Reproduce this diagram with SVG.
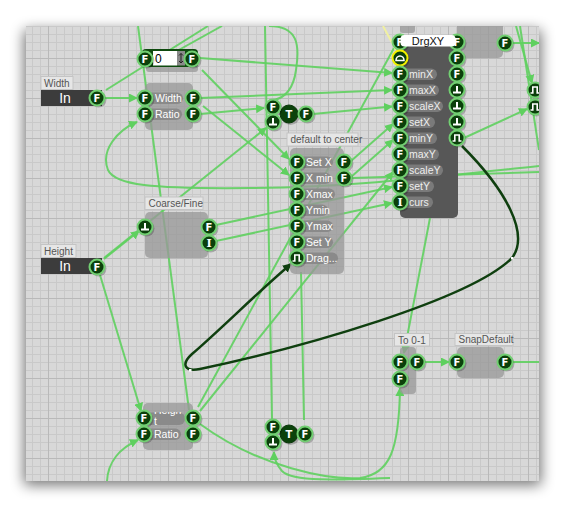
<svg xmlns="http://www.w3.org/2000/svg" xmlns:xlink="http://www.w3.org/1999/xlink" width="565" height="507" viewBox="0 0 565 507">
<style>
.tab{fill:#e6e6e6;stroke:#c4c4c4;stroke-width:1}
.tabt{font-family:"Liberation Sans",Arial,sans-serif;font-size:10px;fill:#555}
.body{fill:#999;fill-opacity:.78}
.pill{fill:#8a8a8a}
.pillt{font-family:"Liberation Sans",Arial,sans-serif;font-size:10.5px;fill:#fff}
.dpill{fill:#7a7a7a}
.dpillt{font-family:"Liberation Sans",Arial,sans-serif;font-size:10.5px;fill:#eee}
.pc{fill:#0b400b;stroke:#72cf72;stroke-width:2}
.ps{fill:#000;opacity:.22}
.pt{font-family:"DejaVu Sans",sans-serif;font-weight:bold;font-size:10px;fill:#fff;text-anchor:middle}
.ic{stroke:#fff;stroke-width:2;fill:none}
.w{fill:none;stroke:#5fd05f;stroke-width:2;stroke-opacity:.9}
.wa{fill:none;stroke:#5fd05f;stroke-width:2;stroke-opacity:.9;marker-end:url(#ah)}
.inbar{fill:#3c3c3c}
.intext{font-family:"Liberation Sans",Arial,sans-serif;font-size:14px;fill:#fff;text-anchor:middle}
</style>
<defs>
<pattern id="grid" patternUnits="userSpaceOnUse" x="8" y="18" width="40" height="40">
<rect width="40" height="40" fill="#d8d8d8"/>
<path d="M8.5,0V40M16.5,0V40M24.5,0V40M32.5,0V40M0,8.5H40M0,16.5H40M0,24.5H40M0,32.5H40" stroke="#c9c9c9" stroke-width="1"/>
<path d="M0.5,0V40M0,0.5H40" stroke="#b9b9b9" stroke-width="1"/>
</pattern>
<filter id="sh" x="-10%" y="-10%" width="120%" height="125%">
<feGaussianBlur stdDeviation="7"/>
</filter>
<clipPath id="cv"><rect x="26" y="26" width="513" height="455"/></clipPath>
<clipPath id="hclip"><rect x="150" y="412" width="36" height="13"/></clipPath>
<marker id="ah" markerUnits="userSpaceOnUse" markerWidth="10" markerHeight="9" refX="8" refY="4.5" orient="auto">
<path d="M0,0 L9,4.5 L0,9 Z" fill="#5fd05f"/>
</marker>
<marker id="ahd" markerUnits="userSpaceOnUse" markerWidth="10" markerHeight="9" refX="8" refY="4.5" orient="auto">
<path d="M0,0 L9,4.5 L0,9 Z" fill="#0f3f0f"/>
</marker>
<g id="pF"><circle cx="1.5" cy="1.5" r="8" class="ps"/><circle r="7.5" class="pc"/><text class="pt" y="3.7">F</text></g>
<g id="pB"><circle cx="1.5" cy="1.5" r="8" class="ps"/><circle r="7.5" class="pc"/><path class="ic" d="M-4,2.5H4M0,2.5V-4"/></g>
<g id="pP"><circle cx="1.5" cy="1.5" r="8" class="ps"/><circle r="7.5" class="pc"/><path class="ic" style="stroke-width:1.6" d="M-4.5,3H-2.2V-3H2.2V3H4.5"/></g>
<g id="pI"><circle cx="1.5" cy="1.5" r="8" class="ps"/><circle r="7.5" class="pc"/><text class="pt" style="font-family:'DejaVu Serif',serif;font-size:11px" y="4">I</text></g>
<g id="pT"><circle cx="1.5" cy="1.5" r="9.5" class="ps"/><circle r="9" fill="#0b420b" stroke="#0a360a" stroke-width="1"/><text class="pt" y="3.7">T</text></g>
</defs>

<rect x="24" y="30" width="517" height="455" fill="#000" opacity=".55" filter="url(#sh)"/>
<rect x="26" y="26" width="513" height="455" fill="url(#grid)"/>

<g clip-path="url(#cv)">
<g id="connectors">
<path class="w" d="M138,26 L189,410"/>
<path class="wa" d="M104,98 L137,98"/>
<path class="w" d="M106,90 L208,26"/>
<path class="w" d="M150,66 L222,26"/>
<path class="wa" d="M200,58 L392,73"/>
<path class="wa" d="M200,98 L392,90"/>
<path class="wa" d="M200,114 L264,108"/>
<path class="wa" d="M313,114 L392,106.5"/>
<path class="w" d="M265,26 L272,419"/>
<path class="w" d="M269,26 C298,26 300,45 296,70 C293,92 283,98 274,100"/>
<path class="wa" d="M202,70 L289,159"/>
<path class="wa" d="M203,106 L289,175"/>
<path class="wa" d="M104,259 L139,231"/>
<path class="wa" d="M104,258 L266,128"/>
<path class="wa" d="M100,275 L141,411"/>
<path class="wa" d="M107,481 C108,462 120,448 138,440"/>
<path class="wa" d="M539,166 C450,175 360,187 250,188 C150,189 115,185 108,170 C100,150 118,130 137,122"/>
<path class="w" d="M352,178 L539,172"/>
<path class="wa" d="M216,225 L392,187"/>
<path class="wa" d="M216,241 L392,203"/>
<path class="wa" d="M351,161 L393,124"/>
<path class="wa" d="M351,177 L393,140"/>
<path class="wa" d="M200,411 L393,172"/>
<path class="w" d="M198,407 L394,48"/>
<path class="w" d="M301,272 L304,420"/>
<path class="wa" d="M464,138 L527,109"/>
<path class="wa" d="M516,26 L532,83"/>
<path class="w" d="M520,26 L539,150"/>
<path class="wa" d="M512,43 L539,43"/>
<path class="w" d="M512,362 L539,362"/>
<path class="wa" d="M424,362 L449,362"/>
<path class="wa" d="M430,218 L404,353"/>
<path class="wa" d="M200,424 C260,468 330,480 360,478 C390,474 399,450 400,388"/>
<path class="wa" d="M390,478 C340,480 292,482 282,471 C276,464 274,459 274,452"/>
<path fill="none" stroke="#f0f0a0" stroke-width="2" d="M383,26 L396,50"/>
<path fill="none" stroke="#0f3f0f" stroke-width="2.5" marker-end="url(#ahd)" d="M462,146 C506,190 530,234 512,258 C470,300 300,348 200,369 C184,372 181,364 192,354 C220,330 260,290 291,264"/>
<rect x="511" y="257" width="2.5" height="2.5" fill="#fff"/>
<rect x="189" y="369" width="2.5" height="2.5" fill="#fff"/>
</g>

<g id="node-width-in">
<rect class="tab" x="41" y="76.5" width="32" height="13"/>
<text class="tabt" x="44" y="86.5">Width</text>
<rect class="inbar" x="41" y="90" width="61" height="16"/>
<text class="intext" x="65" y="103">In</text>
<use xlink:href="#pF" x="97" y="98"/>
</g>

<g id="node-number">
<rect x="146" y="52" width="52" height="20" rx="3" fill="#9c9c9c" fill-opacity=".8"/>
<rect x="142" y="49" width="56" height="18" rx="4" fill="#0e4a0e"/>
<rect x="153" y="51" width="24" height="14.5" fill="#fff"/>
<text x="155" y="62.5" font-family="Liberation Sans, Arial, sans-serif" font-size="12" fill="#000">0</text>
<rect x="177" y="51" width="8" height="14.5" fill="#8a8a8a"/>
<path d="M181,53.5V63M179,55.5L181,53.5L183,55.5M179,61L181,63L183,61" stroke="#222" stroke-width="1" fill="none"/>
<use xlink:href="#pF" x="145" y="59"/>
<use xlink:href="#pF" x="192" y="59"/>
</g>

<g id="node-width-ratio">
<rect class="body" x="145" y="83" width="48" height="47" rx="5"/>
<rect class="pill" x="145" y="92.5" width="38" height="11.5" rx="5.7"/>
<text class="pillt" x="155" y="102">Width</text>
<rect class="pill" x="145" y="108.5" width="37" height="11.5" rx="5.7"/>
<text class="pillt" x="155" y="118">Ratio</text>
<use xlink:href="#pF" x="145" y="98"/>
<use xlink:href="#pF" x="145" y="114"/>
<use xlink:href="#pF" x="193" y="98"/>
<use xlink:href="#pF" x="193" y="114"/>
</g>

<g id="node-toggle-top">
<use xlink:href="#pT" x="289" y="114"/>
<use xlink:href="#pF" x="273" y="107"/>
<use xlink:href="#pB" x="273" y="122"/>
<use xlink:href="#pF" x="306" y="114"/>
</g>

<g id="node-default-center">
<rect class="tab" x="287" y="133" width="71" height="13"/>
<text class="tabt" x="290.5" y="143">default to center</text>
<rect class="body" x="290" y="148" width="54" height="126" rx="5"/>
<rect class="pill" x="297" y="156.5" width="36" height="11.5" rx="5.7"/>
<text class="pillt" x="306" y="166">Set X</text>
<rect class="pill" x="297" y="172.5" width="34" height="11.5" rx="5.7"/>
<text class="pillt" x="306" y="182">X min</text>
<rect class="pill" x="297" y="188.5" width="38" height="11.5" rx="5.7"/>
<text class="pillt" x="306" y="198">Xmax</text>
<rect class="pill" x="297" y="204.5" width="31" height="11.5" rx="5.7"/>
<text class="pillt" x="306" y="214">Ymin</text>
<rect class="pill" x="297" y="220.5" width="36" height="11.5" rx="5.7"/>
<text class="pillt" x="306" y="230">Ymax</text>
<rect class="pill" x="297" y="236.5" width="36" height="11.5" rx="5.7"/>
<text class="pillt" x="306" y="246">Set Y</text>
<rect class="pill" x="297" y="252.5" width="41" height="11.5" rx="5.7"/>
<text class="pillt" x="306" y="262">Drag...</text>
<use xlink:href="#pF" x="297" y="162"/>
<use xlink:href="#pF" x="297" y="178"/>
<use xlink:href="#pF" x="297" y="194"/>
<use xlink:href="#pF" x="297" y="210"/>
<use xlink:href="#pF" x="297" y="226"/>
<use xlink:href="#pF" x="297" y="242"/>
<use xlink:href="#pP" x="297" y="258"/>
<use xlink:href="#pF" x="344" y="162"/>
<use xlink:href="#pF" x="344" y="178"/>
</g>

<g id="node-coarse-fine">
<rect class="tab" x="145" y="197" width="58" height="12.5"/>
<text class="tabt" x="148.5" y="207">Coarse/Fine</text>
<rect class="body" x="145" y="212" width="63" height="46" rx="5"/>
<use xlink:href="#pB" x="145" y="227"/>
<use xlink:href="#pF" x="209" y="227"/>
<use xlink:href="#pI" x="209" y="243"/>
</g>

<g id="node-height-in">
<rect class="tab" x="41" y="244.5" width="35" height="13"/>
<text class="tabt" x="44" y="254.5">Height</text>
<rect class="inbar" x="41" y="258" width="61" height="16"/>
<text class="intext" x="65" y="271">In</text>
<use xlink:href="#pF" x="97" y="267"/>
</g>

<g id="node-height-ratio">
<rect class="body" x="143" y="403" width="50" height="47" rx="5"/>
<rect class="pill" x="144" y="412.5" width="41" height="12.5" rx="6"/>
<g clip-path="url(#hclip)">
<text class="pillt" x="154" y="413.5">Heigh</text>
<text class="pillt" x="154" y="424.5">t</text>
</g>
<rect class="pill" x="144" y="428.5" width="37" height="11.5" rx="5.7"/>
<text class="pillt" x="154" y="438">Ratio</text>
<use xlink:href="#pF" x="144" y="418"/>
<use xlink:href="#pF" x="144" y="434"/>
<use xlink:href="#pF" x="193" y="418"/>
<use xlink:href="#pF" x="193" y="434"/>
</g>

<g id="node-toggle-bottom">
<use xlink:href="#pT" x="289" y="434"/>
<use xlink:href="#pF" x="273" y="427"/>
<use xlink:href="#pB" x="273" y="442"/>
<use xlink:href="#pF" x="305" y="434"/>
</g>

<g id="node-offtop-a">
<rect class="body" x="400" y="20" width="15" height="13" rx="3"/>
</g>
<g id="node-offtop-b">
<rect class="body" x="457" y="20" width="46" height="38" rx="5"/>
<use xlink:href="#pF" x="505" y="43"/>
</g>
<g id="node-right-edge">
<use xlink:href="#pP" x="535" y="90"/>
<use xlink:href="#pP" x="535" y="107"/>
</g>

<g id="node-drgxy">
<rect x="400" y="35" width="58" height="183" rx="5" fill="#575757"/>
<use xlink:href="#pF" x="400" y="42"/>
<use xlink:href="#pF" x="457" y="42"/>
<rect x="400.5" y="35" width="55" height="11.5" rx="4" fill="#fff"/>
<text x="428" y="44.5" font-family="Liberation Sans, Arial, sans-serif" font-size="11" fill="#111" text-anchor="middle">DrgXY</text>
<rect class="dpill" x="400" y="68.5" width="37" height="11.5" rx="5.7"/>
<text class="dpillt" x="409" y="78">minX</text>
<rect class="dpill" x="400" y="84.5" width="39" height="11.5" rx="5.7"/>
<text class="dpillt" x="409" y="94">maxX</text>
<rect class="dpill" x="400" y="100.5" width="43" height="11.5" rx="5.7"/>
<text class="dpillt" x="409" y="110">scaleX</text>
<rect class="dpill" x="400" y="116.5" width="35" height="11.5" rx="5.7"/>
<text class="dpillt" x="409" y="126">setX</text>
<rect class="dpill" x="400" y="132.5" width="37" height="11.5" rx="5.7"/>
<text class="dpillt" x="409" y="142">minY</text>
<rect class="dpill" x="400" y="148.5" width="39" height="11.5" rx="5.7"/>
<text class="dpillt" x="409" y="158">maxY</text>
<rect class="dpill" x="400" y="164.5" width="43" height="11.5" rx="5.7"/>
<text class="dpillt" x="409" y="174">scaleY</text>
<rect class="dpill" x="400" y="180.5" width="34" height="11.5" rx="5.7"/>
<text class="dpillt" x="409" y="190">setY</text>
<rect class="dpill" x="400" y="196.5" width="33" height="11.5" rx="5.7"/>
<text class="dpillt" x="409" y="206">curs</text>
<circle cx="401.5" cy="59.5" r="8" class="ps"/>
<circle cx="400" cy="58" r="7.5" fill="#0b400b" stroke="#f2f200" stroke-width="2"/>
<path d="M-4,2.5A4,4.5 0 0 1 4,2.5Z" transform="translate(400,58)" fill="none" stroke="#fff" stroke-width="1.6"/>
<use xlink:href="#pF" x="400" y="74"/>
<use xlink:href="#pF" x="400" y="90"/>
<use xlink:href="#pF" x="400" y="106"/>
<use xlink:href="#pF" x="400" y="122"/>
<use xlink:href="#pF" x="400" y="138"/>
<use xlink:href="#pF" x="400" y="154"/>
<use xlink:href="#pF" x="400" y="170"/>
<use xlink:href="#pF" x="400" y="186"/>
<use xlink:href="#pI" x="400" y="202"/>
<use xlink:href="#pF" x="457" y="58"/>
<use xlink:href="#pF" x="457" y="74"/>
<use xlink:href="#pB" x="457" y="90"/>
<use xlink:href="#pB" x="457" y="106"/>
<use xlink:href="#pB" x="457" y="122"/>
<use xlink:href="#pP" x="457" y="138"/>
</g>

<g id="node-to01">
<rect class="tab" x="394.5" y="333.5" width="35" height="12.5"/>
<text class="tabt" x="398" y="343.5">To 0-1</text>
<rect class="body" x="400" y="347" width="16" height="47" rx="4"/>
<use xlink:href="#pF" x="400" y="362"/>
<use xlink:href="#pF" x="417" y="362"/>
<use xlink:href="#pF" x="400" y="379"/>
</g>

<g id="node-snapdefault">
<rect class="tab" x="455" y="333.5" width="58" height="12"/>
<text class="tabt" x="458.5" y="343">SnapDefault</text>
<rect class="body" x="457" y="347" width="47" height="31" rx="5"/>
<use xlink:href="#pF" x="457" y="362"/>
<use xlink:href="#pF" x="505" y="362"/>
</g>
</g>
</svg>
